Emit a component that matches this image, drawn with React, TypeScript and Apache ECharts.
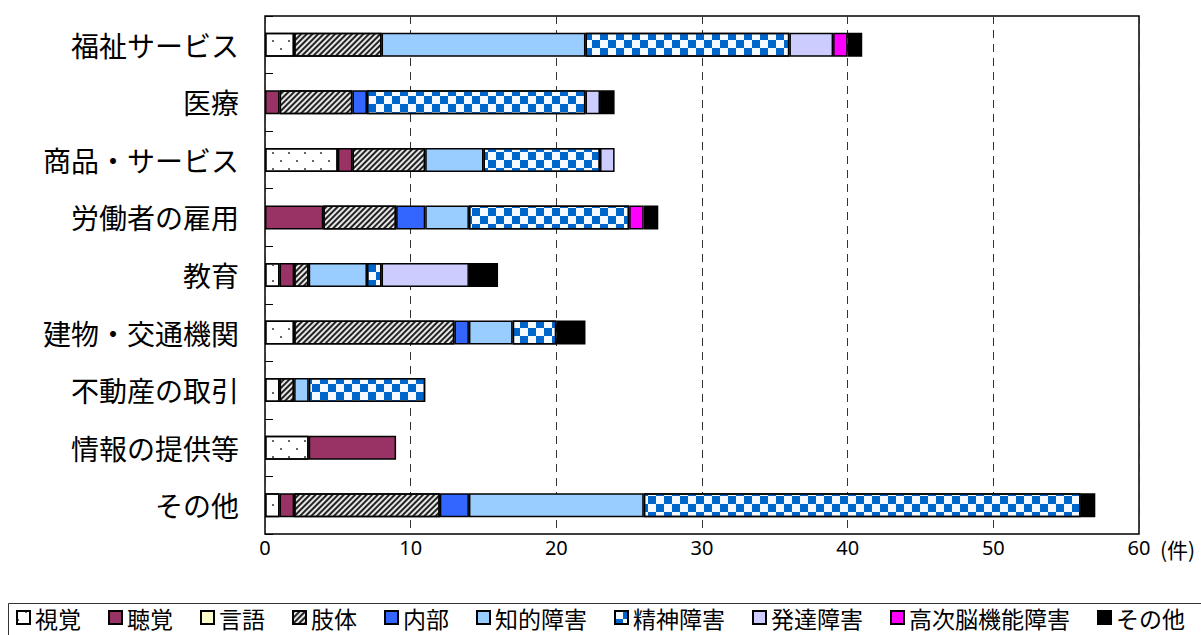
import React, { useEffect, useRef } from "react";
import * as echarts from "echarts";

const categories = ["福祉サービス", "医療", "商品・サービス", "労働者の雇用", "教育", "建物・交通機関", "不動産の取引", "情報の提供等", "その他"];
const seriesNames = ["視覚", "聴覚", "言語", "肢体", "内部", "知的障害", "精神障害", "発達障害", "高次脳機能障害", "その他"];

const visual = [2, 0, 5, 0, 1, 2, 1, 3, 1];
const hearing = [0, 1, 1, 4, 1, 0, 0, 6, 1];
const speech = [0, 0, 0, 0, 0, 0, 0, 0, 0];
const limb = [6, 5, 5, 5, 1, 11, 1, 0, 10];
const internal = [0, 1, 0, 2, 0, 1, 0, 0, 2];
const intellectual = [14, 0, 4, 3, 4, 3, 1, 0, 12];
const mental = [14, 15, 8, 11, 1, 3, 8, 0, 30];
const developmental = [3, 1, 1, 0, 6, 0, 0, 0, 0];
const higherBrain = [1, 0, 0, 1, 0, 0, 0, 0, 0];
const other = [1, 1, 0, 1, 2, 2, 0, 0, 1];

const xTicks = [0, 10, 20, 30, 40, 50, 60];
const unitLabel = "(件)";

const FONT = "'Noto Sans CJK JP', 'Noto Sans', sans-serif";

export default function App() {
  const ref = useRef<HTMLDivElement>(null);
  useEffect(() => {
    document.body.style.margin = "0";
    const chart = echarts.init(ref.current!, null, { renderer: "svg" });
    const values = [visual, hearing, speech, limb, internal, intellectual, mental, developmental, higherBrain, other];
    const styles: any[] = [
      { color: "#ffffff", decal: { symbol: "rect", symbolSize: 1, color: "#666", dashArrayX: [[2, 14], [0, 8, 2, 6]], dashArrayY: [2, 6] } },
      { color: "#993366" },
      { color: "#ffffcc" },
      { color: "#e6e6e6", decal: { symbol: "rect", symbolSize: 1, color: "#222", dashArrayX: [1, 0], dashArrayY: [2, 2], rotation: -Math.PI / 4 } },
      { color: "#3366ff" },
      { color: "#99ccff" },
      { color: "#f4faff", decal: { symbol: "rect", symbolSize: 1, color: "#0066cc", dashArrayX: [[8, 8], [0, 8, 8, 0]], dashArrayY: [8, 0] } },
      { color: "#ccccff" },
      { color: "#ff00ff" },
      { color: "#000000" },
    ];
    const series = seriesNames.map((name, i) => ({
      name,
      type: "bar",
      stack: "total",
      barWidth: 24,
      data: values[i].map((v) => (v === 0 ? null : v)),
      itemStyle: { ...styles[i], borderColor: "#000", borderWidth: 1.5 },
      emphasis: { disabled: true },
    }));
    chart.setOption({
      animation: false,
      textStyle: { fontFamily: FONT },
      grid: { left: 265, right: 62, top: 16, bottom: 101, show: true, borderColor: "#000", borderWidth: 1.5, backgroundColor: "transparent" },
      xAxis: {
        type: "value",
        min: xTicks[0],
        max: xTicks[xTicks.length - 1],
        interval: 10,
        axisLine: { show: false },
        axisTick: { show: false },
        axisLabel: { color: "#000", fontSize: 20, fontFamily: "'Noto Sans', sans-serif", margin: 3 },
        splitLine: { show: true, lineStyle: { color: "#333", type: [8, 6], width: 1 } },
      },
      yAxis: {
        type: "category",
        inverse: true,
        data: categories,
        axisLine: { show: false },
        axisTick: { show: true, inside: true, length: 8, lineStyle: { color: "#000", width: 1 } },
        axisLabel: { color: "#000", fontSize: 28, fontFamily: FONT, margin: 26 },
        splitLine: { show: false },
      },
      legend: {
        data: seriesNames,
        left: 16,
        top: 606,
        padding: 0,
        itemWidth: 13,
        itemHeight: 13,
        itemGap: 27,
        icon: "rect",
        textStyle: { color: "#000", fontSize: 23, lineHeight: 23, fontFamily: FONT },
        selectedMode: false,
      },
      graphic: [
        { type: "rect", shape: { x: 8.5, y: 603.5, width: 1200, height: 40 }, style: { fill: "none", stroke: "#333", lineWidth: 1 }, silent: true },
        { type: "text", left: 1160, top: 538, style: { text: unitLabel, font: `21px ${FONT}`, fill: "#000" } },
      ],
      series,
    });
    return () => chart.dispose();
  }, []);
  return <div ref={ref} style={{ width: 1201, height: 635 }} />;
}
